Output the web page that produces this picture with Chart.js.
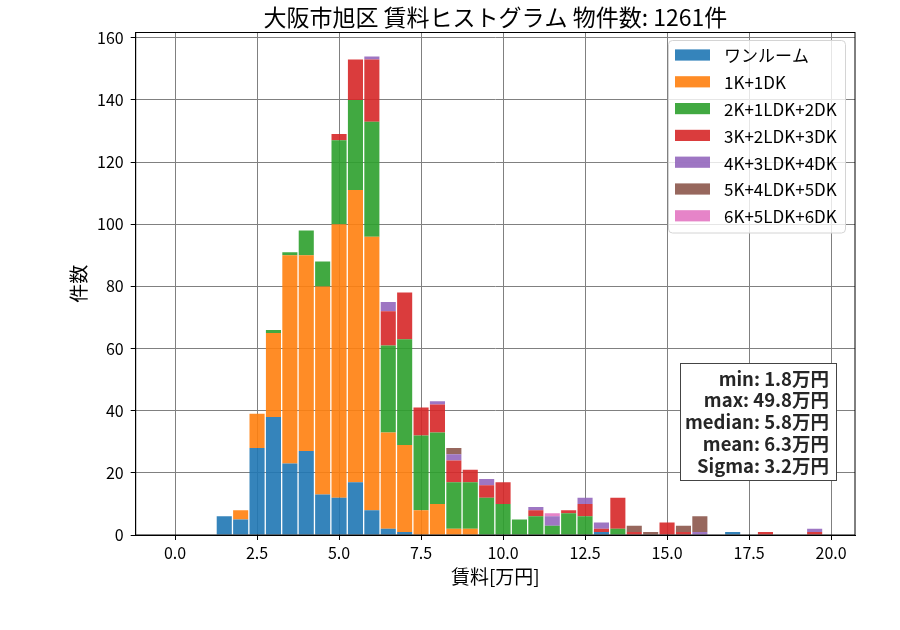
<!DOCTYPE html>
<html>
<head>
<meta charset="utf-8">
<script src="https://cdn.jsdelivr.net/npm/chart.js@4"></script>
<style>
  body { margin: 0; background: #fff; }
</style>
</head>
<body>
<canvas id="rentChart" width="900" height="630"></canvas>
<script>
// histogram bins (centre of each 0.5万円 bin)
const bins = [1.5, 2.0, 2.5, 3.0, 3.5, 4.0, 4.5, 5.0, 5.5, 6.0, 6.5, 7.0, 7.5, 8.0, 8.5, 9.0, 9.5, 10.0,
  10.5, 11.0, 11.5, 12.0, 12.5, 13.0, 13.5, 14.0, 14.5, 15.0, 15.5, 16.0, 16.5, 17.0, 17.5, 18.0, 18.5, 19.0, 19.5];

const labels = ['ワンルーム', '1K+1DK', '2K+1LDK+2DK', '3K+2LDK+3DK', '4K+3LDK+4DK', '5K+4LDK+5DK', '6K+5LDK+6DK'];

// counts per bin for each layout type
const oneRoom = [6, 5, 28, 38, 23, 27, 13, 12, 17, 8, 2, 1, 0, 0, 0, 0, 0, 0, 0, 0, 0, 0, 0, 1, 0, 0, 0, 0, 0, 0, 0, 1, 0, 0, 0, 0, 0];
const k1 = [0, 3, 11, 27, 67, 63, 67, 88, 94, 88, 31, 28, 8, 10, 2, 2, 0, 0, 0, 0, 0, 0, 0, 0, 0, 0, 0, 0, 0, 0, 0, 0, 0, 0, 0, 0, 0];
const k2 = [0, 0, 0, 1, 1, 8, 8, 27, 29, 37, 28, 34, 24, 23, 15, 15, 12, 10, 5, 6, 3, 7, 6, 0, 2, 0, 0, 0, 0, 0, 0, 0, 0, 0, 0, 0, 0];
const k3 = [0, 0, 0, 0, 0, 0, 0, 2, 13, 20, 11, 15, 9, 9, 7, 4, 4, 7, 0, 2, 0, 1, 4, 1, 10, 1, 0, 4, 1, 0, 0, 0, 0, 1, 0, 0, 1];
const k4 = [0, 0, 0, 0, 0, 0, 0, 0, 0, 1, 3, 0, 0, 1, 2, 0, 2, 0, 0, 1, 3, 0, 2, 2, 0, 0, 0, 0, 0, 1, 0, 0, 0, 0, 0, 0, 1];
const k5 = [0, 0, 0, 0, 0, 0, 0, 0, 0, 0, 0, 0, 0, 0, 2, 0, 0, 0, 0, 0, 0, 0, 0, 0, 0, 2, 1, 0, 2, 5, 0, 0, 0, 0, 0, 0, 0];
const k6 = [0, 0, 0, 0, 0, 0, 0, 0, 0, 0, 0, 0, 0, 0, 0, 0, 0, 0, 0, 0, 1, 0, 0, 0, 0, 0, 0, 0, 0, 0, 0, 0, 0, 0, 0, 0, 0];

const xTicks = [0, 2.5, 5, 7.5, 10, 12.5, 15, 17.5, 20];
const yTicks = [0, 20, 40, 60, 80, 100, 120, 140, 160];

const statLines = ['min: 1.8万円', 'max: 49.8万円', 'median: 5.8万円', 'mean: 6.3万円', 'Sigma: 3.2万円'];

const colors = [
  'rgba(31,119,180,0.9)', 'rgba(255,127,14,0.9)', 'rgba(44,160,44,0.9)', 'rgba(214,39,40,0.9)',
  'rgba(148,103,189,0.9)', 'rgba(140,86,75,0.9)', 'rgba(227,119,194,0.9)'
];

const FONT = "'Noto Sans CJK JP', 'Noto Sans', sans-serif";
const series = [oneRoom, k1, k2, k3, k4, k5, k6];

// top/right spines + legend + stats box, drawn over the plot
const overlay = {
  id: 'overlay',
  afterDraw(chart) {
    const { ctx, chartArea: a } = chart;
    ctx.save();
    ctx.strokeStyle = '#000';
    ctx.lineWidth = 1;
    ctx.strokeRect(a.left, a.top, a.right - a.left, a.bottom - a.top);

    // legend
    const lx = 668.5, ly = 40.5, lw = 177, lh = 192.5;
    ctx.beginPath();
    ctx.roundRect(lx, ly, lw, lh, 4);
    ctx.fillStyle = 'rgba(255,255,255,0.8)';
    ctx.fill();
    ctx.strokeStyle = '#d4d4d4';
    ctx.stroke();
    ctx.font = '17px ' + FONT;
    ctx.textBaseline = 'middle';
    ctx.textAlign = 'left';
    chart.data.datasets.forEach((ds, i) => {
      const cy = 55 + i * 26.8;
      ctx.fillStyle = ds.backgroundColor;
      ctx.fillRect(675, cy - 5.6, 35, 11.2);
      ctx.fillStyle = '#000';
      ctx.fillText(ds.label, 724, cy + 1);
    });

    // stats box
    ctx.fillStyle = '#fff';
    ctx.fillRect(680.5, 363.5, 156, 117);
    ctx.strokeStyle = '#444';
    ctx.strokeRect(680.5, 363.5, 156, 117);
    ctx.font = 'bold 18.5px ' + FONT;
    ctx.textAlign = 'right';
    ctx.fillStyle = '#262626';
    statLines.forEach((t, i) => ctx.fillText(t, 829, 378.5 + i * 21.8));
    ctx.restore();
  }
};

new Chart(document.getElementById('rentChart'), {
  type: 'bar',
  data: {
    datasets: labels.map((name, i) => ({
      label: name,
      data: bins.map((b, j) => ({ x: b, y: series[i][j] })),
      backgroundColor: colors[i],
      borderWidth: 0,
      barPercentage: 0.92,
      categoryPercentage: 1.0
    }))
  },
  options: {
    responsive: false,
    animation: false,
    layout: { padding: { top: 0, right: 45, bottom: 0, left: 0 } },
    plugins: {
      legend: { display: false },
      tooltip: { enabled: false },
      title: {
        display: true,
        fullSize: false,
        text: '大阪市旭区 賃料ヒストグラム 物件数: 1261件',
        color: '#000',
        font: { family: FONT, size: 23, weight: 'normal' },
        padding: { top: 3, bottom: 1.9 }
      }
    },
    scales: {
      x: {
        type: 'linear',
        stacked: true,
        min: -1.2,
        max: 20.73,
        offset: false,
        z: 1,
        grid: { offset: false, color: '#808080', lineWidth: 1, tickLength: 5, tickColor: '#000' },
        border: { color: '#000', width: 1 },
        ticks: {
          color: '#000', padding: 3, maxRotation: 0,
          font: { family: FONT, size: 16 },
          callback: v => v.toFixed(1)
        },
        title: {
          display: true, text: '賃料[万円]', color: '#000',
          font: { family: FONT, size: 19 }, padding: { top: 0, bottom: 41.6 }
        },
        afterBuildTicks: s => { s.ticks = xTicks.map(v => ({ value: v })); },
        afterFit: s => { s.height = 95; }
      },
      y: {
        stacked: true,
        min: 0,
        max: 161.7,
        z: 1,
        grid: { color: '#808080', lineWidth: 1, tickLength: 5, tickColor: '#000' },
        border: { color: '#000', width: 1 },
        ticks: { color: '#000', padding: 7, font: { family: FONT, size: 16 } },
        title: {
          display: true, text: '件数', color: '#000',
          font: { family: FONT, size: 19 }, padding: { top: 67, bottom: 0 }
        },
        afterBuildTicks: s => { s.ticks = yTicks.map(v => ({ value: v })); },
        afterFit: s => { s.width = 135.7; }
      }
    }
  },
  plugins: [overlay]
});
</script>
</body>
</html>
